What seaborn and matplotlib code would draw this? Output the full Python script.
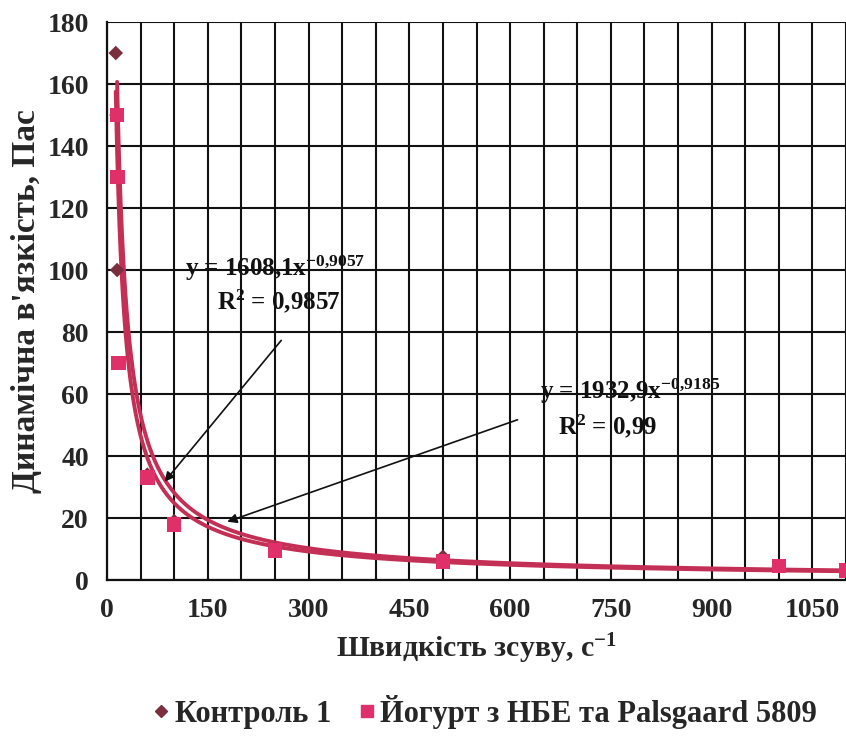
import numpy as np
import pandas as pd
import matplotlib
matplotlib.use("Agg")
import matplotlib.pyplot as plt
from matplotlib.lines import Line2D
import seaborn as sns

# Measured points
control_x = [13, 14, 15, 60, 100, 250, 500, 1000, 1100]
control_y = [170, 150, 100, 34, 19, 10, 7.5, 4.5, 3]
yogurt_x = [15, 16, 17, 60, 100, 250, 500, 1000, 1100]
yogurt_y = [150, 130, 70, 33, 18, 9.5, 6, 4.5, 3]

# Power-law trendlines y = a * x^b
control_fit = (1608.1, -0.9057)
yogurt_fit = (1932.9, -0.9185)
fit_x_start = [13, 15]

x_ticks = [0, 150, 300, 450, 600, 750, 900, 1050]
y_ticks = [0, 20, 40, 60, 80, 100, 120, 140, 160, 180]

labels = ["Контроль 1", "Йогурт з НБЕ та Palsgaard 5809"]

sns.set_style("white")
plt.rcParams["font.family"] = ["Liberation Serif", "DejaVu Serif"]
plt.rcParams["font.weight"] = "bold"
plt.rcParams["mathtext.fontset"] = "custom"
plt.rcParams["mathtext.rm"] = "Liberation Serif:bold"
plt.rcParams["mathtext.bf"] = "Liberation Serif:bold"
plt.rcParams["mathtext.it"] = "Liberation Serif:bold"
plt.rcParams["mathtext.default"] = "bf"

fig = plt.figure(figsize=(8.46, 7.44), dpi=100)
ax = fig.add_axes([0.1265, 0.2204, 0.8735, 0.75])

curve_color = "#C42F55"
control_color = "#7A2E3E"
yogurt_color = "#E0306A"

# trendlines
for (a, b), x0 in zip([control_fit, yogurt_fit], fit_x_start):
    xs = np.linspace(x0, 1100, 600)
    sns.lineplot(x=xs, y=a * xs ** b, ax=ax, color=curve_color, lw=2.8,
                 zorder=3, legend=False)

df_c = pd.DataFrame({"x": control_x, "y": control_y})
df_y = pd.DataFrame({"x": yogurt_x, "y": yogurt_y})
sns.scatterplot(data=df_c, x="x", y="y", ax=ax, marker="D", s=55,
                color=control_color, edgecolor="none", zorder=4, legend=False)
sns.scatterplot(data=df_y, x="x", y="y", ax=ax, marker="s", s=110,
                color=yogurt_color, edgecolor="none", zorder=5, legend=False)

ax.set_xlim(0, 1100)
ax.set_ylim(0, 180)
ax.set_xticks(x_ticks)
ax.set_yticks(y_ticks)
ax.set_xticks(np.arange(0, 1101, 50), minor=True)
ax.grid(True, which="both", axis="x", color="#111111", lw=1.5)
ax.grid(True, which="major", axis="y", color="#111111", lw=1.5)
ax.set_axisbelow(True)
for side in ["top", "right"]:
    ax.spines[side].set_visible(False)
for side in ["left", "bottom"]:
    ax.spines[side].set_color("#111111")
    ax.spines[side].set_linewidth(1.6)
ax.tick_params(axis="both", which="major", length=7, width=1.5,
               direction="out", color="#111111", labelsize=20, pad=6)
ax.tick_params(axis="x", which="minor", length=0)
for lab in ax.get_xticklabels() + ax.get_yticklabels():
    lab.set_fontweight("bold")

ax.set_xlabel("Швидкість зсуву, с$^{-1}$", fontsize=21.5,
              fontweight="bold", labelpad=6)
ax.set_ylabel("Динамічна в'язкість, Пас", fontsize=24,
              fontweight="bold", labelpad=4)

# equation labels with arrows
eq_kw = dict(fontsize=18, fontweight="bold", color="#111111", zorder=6)
ax.text(250, 100.5, "y = 1608,1x$^{-0{,}9057}$", ha="center",
        va="center", **eq_kw)
ax.text(255, 90, "R$^{2}$ = 0,9857", ha="center", va="center", **eq_kw)
ax.annotate("", xy=(83, 31), xytext=(262, 78),
            arrowprops=dict(arrowstyle="-|>", color="#111111", lw=1.2,
                            mutation_scale=14), zorder=6)
ax.text(778, 61, "y = 1932,9x$^{-0{,}9185}$", ha="center",
        va="center", **eq_kw)
ax.text(745, 49.5, "R$^{2}$ = 0,99", ha="center", va="center", **eq_kw)
ax.annotate("", xy=(175, 18.5), xytext=(615, 52),
            arrowprops=dict(arrowstyle="-|>", color="#111111", lw=1.2,
                            mutation_scale=14), zorder=6)

handles = [
    Line2D([], [], marker="D", ls="none", color=control_color, markersize=6),
    Line2D([], [], marker="s", ls="none", color=yogurt_color, markersize=8),
]
fig.legend(handles, labels, loc="center", bbox_to_anchor=(0.572, 0.043),
           ncol=2, frameon=False, handletextpad=0.1, columnspacing=0.8,
           handlelength=0.7, prop=dict(size=22, weight="bold"))

fig.savefig("out.png", dpi=100, facecolor="white")
